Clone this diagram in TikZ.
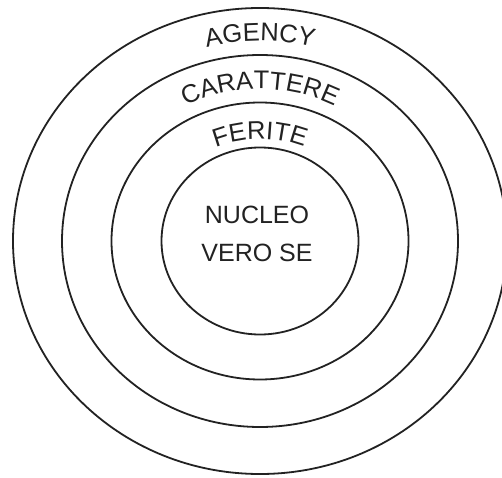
\documentclass[tikz,border=0pt]{standalone}
\usepackage{fontspec}
\setmainfont{Liberation Sans}
\usetikzlibrary{decorations.text}
\definecolor{ink}{HTML}{222222}
\tikzset{
  ring/.style={draw=ink, line width=1.8pt},
  arctext/.style={decorate, decoration={text along path, text align=center, text color=ink, text={#1}}}
}
\begin{document}
\begin{tikzpicture}[x=1pt,y=1pt]
\useasboundingbox (0,0) rectangle (502,477);
\clip (0,0) rectangle (502,477);
\coordinate (c) at (260,236);
\draw[ring] (c) ellipse [x radius=247, y radius=233];
\draw[ring] (c) ellipse [x radius=198, y radius=186];
\draw[ring] (c) ellipse [x radius=148.5, y radius=138.5];
\draw[ring] (c) ellipse [x radius=98.5, y radius=93.5];
\path[arctext={|\fontsize{25.5}{26}\selectfont|AGENCY}] (c) ++(180:212 and 200) arc[start angle=180, end angle=0, x radius=212, y radius=200];
\path[arctext={|\fontsize{25.5}{26}\selectfont|CARATTERE}] (c) ++(180:162 and 152) arc[start angle=180, end angle=0, x radius=162, y radius=152];
\path[arctext={|\fontsize{25.5}{26}\selectfont|FERITE}] (c) ++(180:112 and 102) arc[start angle=180, end angle=0, x radius=112, y radius=102];
\node[text=ink, align=center, font=\fontsize{25}{38}\selectfont, anchor=base] (nucleo) at (257,216) {NUCLEO\\VERO SE};
\end{tikzpicture}
\end{document}
